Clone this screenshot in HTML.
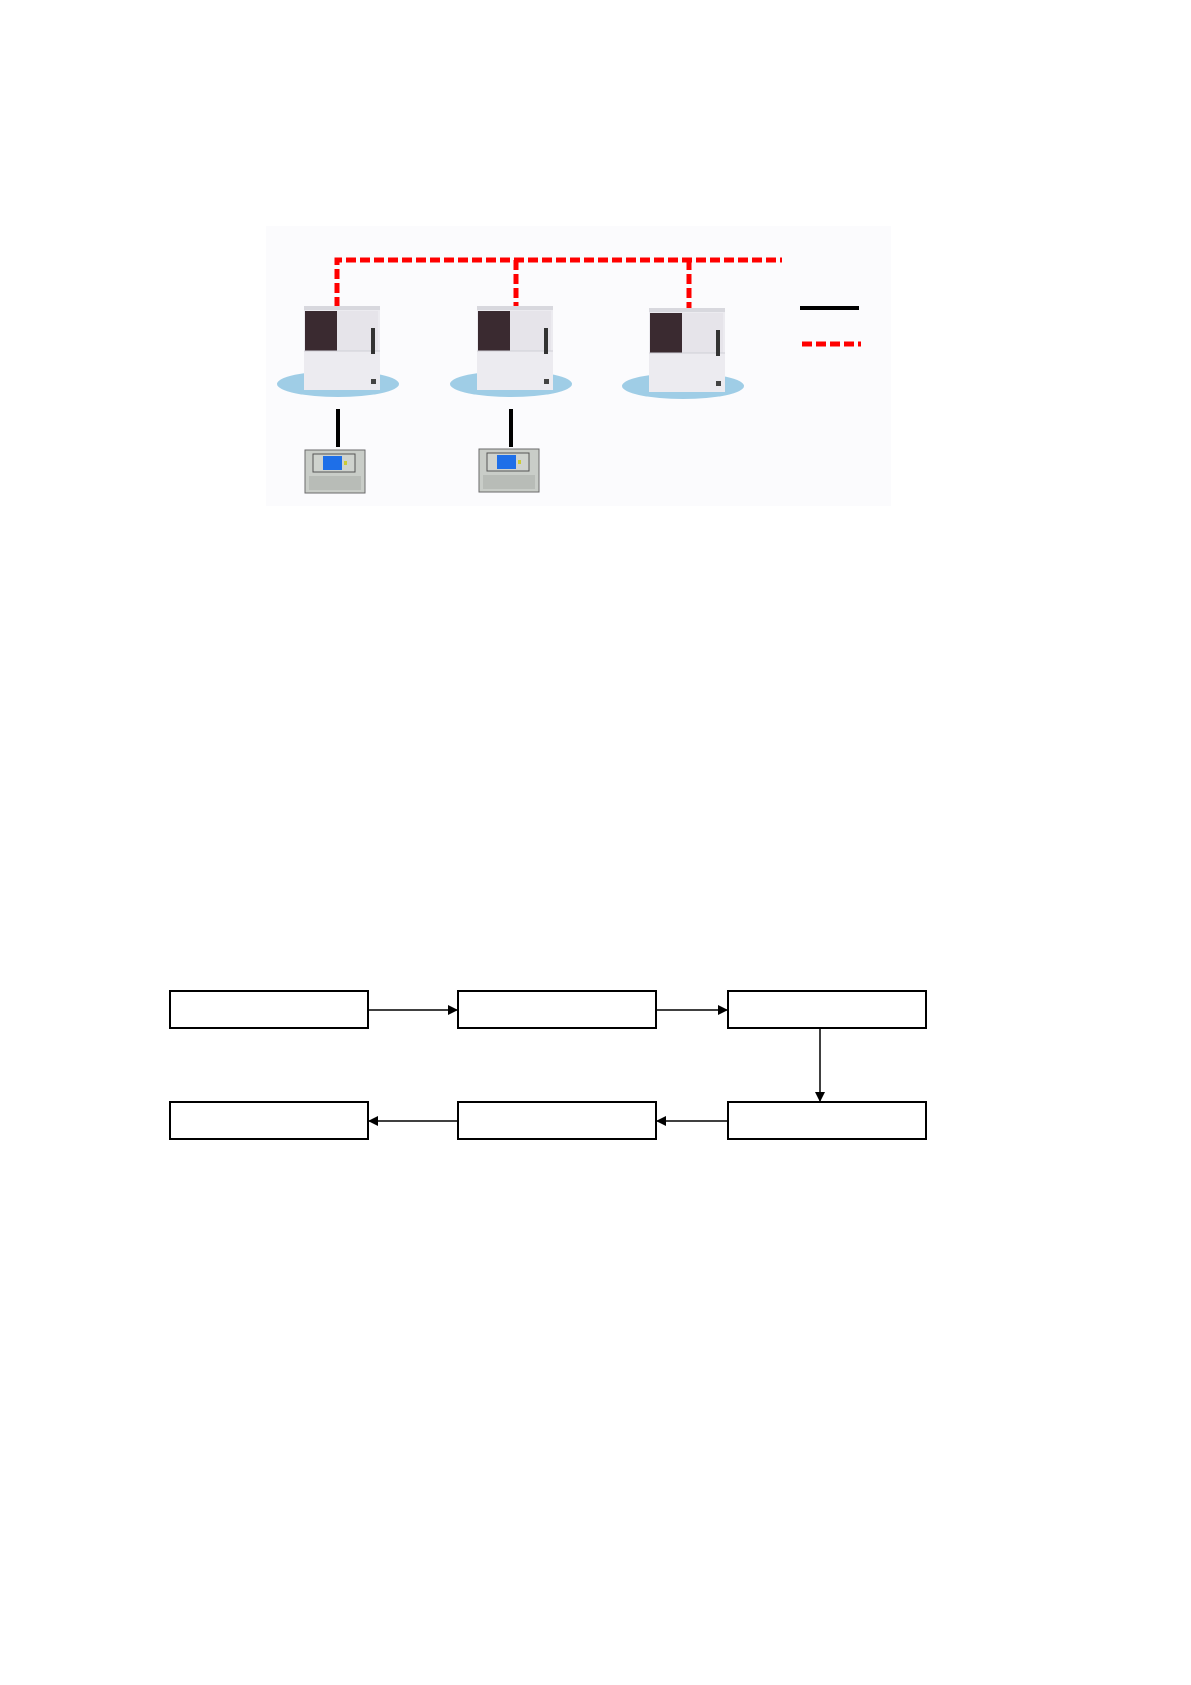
<!DOCTYPE html>
<html><head><meta charset="utf-8"><style>
html,body{margin:0;padding:0;background:#fff;}
body{width:1191px;height:1685px;position:relative;overflow:hidden;font-family:"Liberation Sans",sans-serif;}
</style></head><body>
<svg width="1191" height="1685" viewBox="0 0 1191 1685" xmlns="http://www.w3.org/2000/svg" style="position:absolute;left:0;top:0">
<defs>
<g id="unit">
  <ellipse cx="0" cy="0" rx="61" ry="13" fill="#9fcde6"/>
  <rect x="-34" y="-78" width="76" height="84" fill="#ecebf0"/>
  <rect x="-34" y="-78" width="76" height="4" fill="#d8d8de"/>
  <rect x="-33" y="-73" width="32" height="40" fill="#3a2a30"/>
  <rect x="-1" y="-73" width="41" height="40" fill="#e6e4ea"/>
  <line x1="-34" y1="-33" x2="42" y2="-33" stroke="#cfcfd6"/>
  <rect x="33" y="-56" width="4" height="26" fill="#333"/>
  <rect x="33" y="-5" width="5" height="5" fill="#444"/>
</g>
<g id="ctrl">
  <rect x="0" y="0" width="60" height="43" fill="#c9cdc8" stroke="#6a6a6a" stroke-width="1"/>
  <rect x="8" y="4" width="42" height="18" fill="#cfd3ce" stroke="#555"/>
  <rect x="18" y="6" width="19" height="14" fill="#1e6fe8"/>
  <rect x="39" y="11" width="3" height="4" fill="#cc3"/>
  <rect x="4" y="26" width="52" height="14" fill="#b8bcb7"/>
</g>
<marker id="ah" markerWidth="10" markerHeight="10" refX="9" refY="5" orient="auto" markerUnits="userSpaceOnUse">
  <path d="M0,0 L10,5 L0,10 z" fill="#000"/>
</marker>
</defs>
<rect x="266" y="226" width="625" height="280" fill="#fbfbfd"/>
<g stroke="#ff0000" stroke-width="5" stroke-dasharray="10,4" fill="none">
  <path d="M337,307 L337,260 L782,260"/>
  <line x1="516" y1="260" x2="516" y2="309"/>
  <line x1="689" y1="260" x2="689" y2="311"/>
  <line x1="802" y1="344" x2="861" y2="344"/>
</g>
<use href="#unit" x="338" y="384"/>
<use href="#unit" x="511" y="384"/>
<use href="#unit" x="683" y="386"/>
<g stroke="#000" stroke-width="4">
  <line x1="338" y1="409" x2="338" y2="447"/>
  <line x1="511" y1="409" x2="511" y2="447"/>
  <line x1="800" y1="308" x2="859" y2="308"/>
</g>
<use href="#ctrl" x="305" y="450"/>
<use href="#ctrl" x="479" y="449"/>
<g fill="none" stroke="#000" stroke-width="2">
  <rect x="170" y="991" width="198" height="37"/>
  <rect x="458" y="991" width="198" height="37"/>
  <rect x="728" y="991" width="198" height="37"/>
  <rect x="170" y="1102" width="198" height="37"/>
  <rect x="458" y="1102" width="198" height="37"/>
  <rect x="728" y="1102" width="198" height="37"/>
</g>
<g stroke="#000" stroke-width="1.5" marker-end="url(#ah)">
  <line x1="369" y1="1010" x2="457" y2="1010"/>
  <line x1="657" y1="1010" x2="727" y2="1010"/>
  <line x1="820" y1="1029" x2="820" y2="1101"/>
  <line x1="727" y1="1121" x2="657" y2="1121"/>
  <line x1="457" y1="1121" x2="369" y2="1121"/>
</g>
</svg>
</body></html>
